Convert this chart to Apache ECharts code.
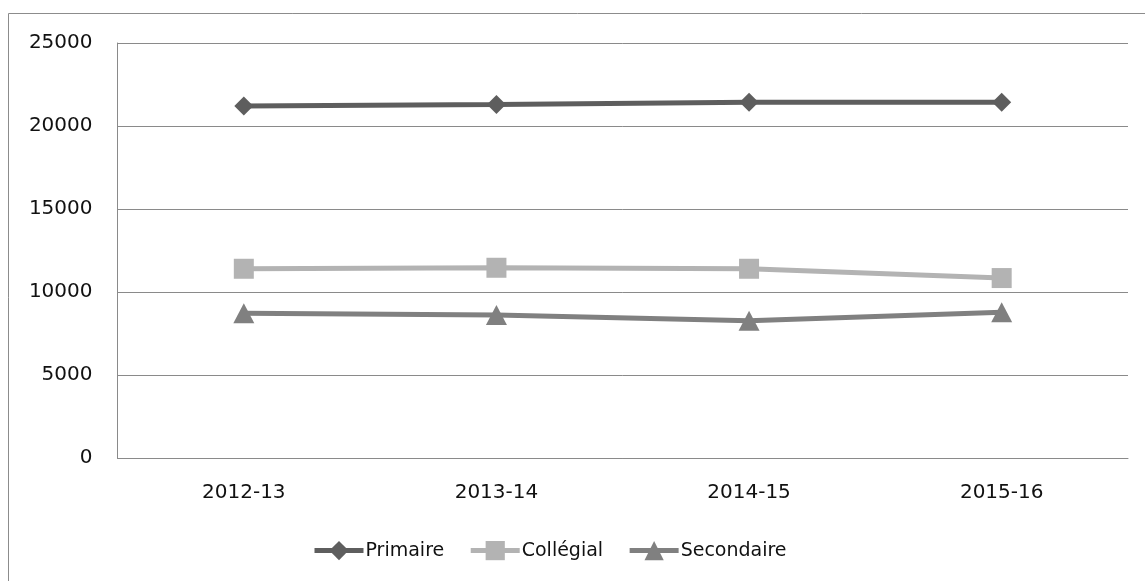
<!DOCTYPE html>
<html>
<head>
<meta charset="utf-8">
<script src="https://cdn.jsdelivr.net/npm/echarts@6/dist/echarts.min.js"></script>
<style>
  html, body { margin: 0; padding: 0; background: #fff; }
  #chart { width: 1145px; height: 581px; }
</style>
</head>
<body>
<div id="chart"></div>
<script>
// School years and enrolment counts per level
const years = ['2012-13', '2013-14', '2014-15', '2015-16'];
const primaire = [21200, 21300, 21430, 21430];
const collegial = [11400, 11460, 11400, 10840];
const secondaire = [8720, 8610, 8270, 8780];
const yTicks = { min: 0, max: 25000, step: 5000 };

const FONT = 'DejaVu Sans';
const TEXT = '#111';
const GRID = '#8a8a8a';

function lineSeries(name, data, color, symbol, size) {
  return {
    name: name,
    type: 'line',
    data: data,
    symbol: symbol,
    symbolSize: size,
    showSymbol: true,
    lineStyle: { color: color, width: 5 },
    itemStyle: { color: color },
    emphasis: { disabled: true },
    animation: false
  };
}

const chart = echarts.init(document.getElementById('chart'), null, { renderer: 'canvas' });
chart.setOption({
  backgroundColor: '#fff',
  animation: false,
  textStyle: { fontFamily: FONT },
  graphic: [{
    type: 'rect',
    shape: { x: 8.5, y: 13.5, width: 1300, height: 900 },
    style: { fill: 'none', stroke: '#8c8c8c', lineWidth: 1 },
    silent: true
  }],
  grid: { left: 117.5, top: 43, right: 17, bottom: 123 },
  legend: {
    left: 307,
    top: 536,
    itemWidth: 49,
    itemHeight: 24,
    itemGap: 24,
    lineStyle: { width: 5 },
    textStyle: { fontFamily: FONT, fontSize: 19, color: TEXT, padding: [0, 0, 0, -3] },
    data: ['Primaire', 'Collégial', 'Secondaire']
  },
  xAxis: {
    type: 'category',
    data: years,
    boundaryGap: true,
    axisLine: { show: true, lineStyle: { color: GRID, width: 1 } },
    axisTick: { show: false },
    axisLabel: { color: TEXT, fontFamily: FONT, fontSize: 20, margin: 25 },
    splitLine: { show: false }
  },
  yAxis: {
    type: 'value',
    min: yTicks.min,
    max: yTicks.max,
    interval: yTicks.step,
    axisLine: { show: true, lineStyle: { color: GRID, width: 1 } },
    axisTick: { show: false },
    axisLabel: { color: TEXT, fontFamily: FONT, fontSize: 20, margin: 25, formatter: v => String(v) },
    splitLine: { show: true, lineStyle: { color: GRID, width: 1 } }
  },
  series: [
    lineSeries('Primaire', primaire, '#5e5e5e', 'diamond', [19, 19]),
    lineSeries('Collégial', collegial, '#b3b3b3', 'rect', [20, 20]),
    lineSeries('Secondaire', secondaire, '#808080', 'triangle', [21, 20])
  ]
});
</script>
</body>
</html>
